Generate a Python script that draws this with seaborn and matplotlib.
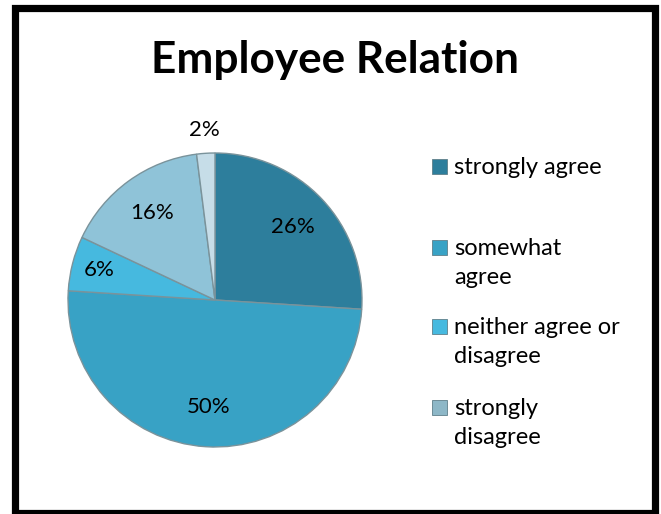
import matplotlib
matplotlib.use("Agg")
import matplotlib.pyplot as plt
from matplotlib.patches import Rectangle
import numpy as np
import seaborn as sns

# Survey responses (percent)
categories = ["strongly agree", "somewhat agree", "neither agree or disagree",
              "strongly disagree", "other"]
shares = [26, 50, 6, 16, 2]
legend_labels = ["strongly agree", "somewhat\nagree", "neither agree or\ndisagree",
                 "strongly\ndisagree"]
colors = ["#2D7E9C", "#38A2C5", "#46B9DF", "#8FC3D8", "#C6DDE8"]
legend_colors = ["#2D7E9C", "#38A2C5", "#46B9DF", "#8DB7C7"]

sns.set_theme(style="white")
plt.rcParams["font.family"] = ["Lato", "DejaVu Sans"]

W, H = 661, 514
fig = plt.figure(figsize=(W / 100, H / 100), dpi=100)
fig.patch.set_facecolor("white")

# Pie axes: centre (215, 300) px, radius 147 px
cx, cy, r = 215, 300, 147
ax = fig.add_axes([(cx - r) / W, (H - cy - r) / H, 2 * r / W, 2 * r / H])
wedges, texts, autotexts = ax.pie(
    shares, colors=colors, startangle=90, counterclock=False,
    autopct=lambda p: f"{p:.0f}%", pctdistance=0.73,
    wedgeprops=dict(edgecolor="#7A939B", linewidth=1.0),
    textprops=dict(fontsize=16, color="black"),
)
ax.set_xlim(-1, 1)
ax.set_ylim(-1, 1)
ax.set_aspect("equal")

# Nudge the labels of the two thin slices
for w, t, d in zip(wedges, autotexts, [0.73, 0.73, 0.81, 0.73, 1.16]):
    ang = np.deg2rad((w.theta1 + w.theta2) / 2)
    t.set_position((d * np.cos(ang), d * np.sin(ang)))

fig.text(335 / W, 1 - 73 / H, "Employee Relation", ha="center", va="baseline",
         fontsize=31.8, fontweight="bold", color="black")

# Legend: first-line baselines in px from the top
entry_baselines = [174, 255, 334, 415]
for lab, col, base in zip(legend_labels, legend_colors, entry_baselines):
    fig.patches.append(Rectangle((432 / W, 1 - base / H), 15 / W, 15 / H,
                                 transform=fig.transFigure, facecolor=col,
                                 edgecolor="#5F7F8A", linewidth=0.6))
    fig.text(454 / W, 1 - (base - 17) / H, lab, ha="left", va="top",
             fontsize=17, color="black", linespacing=1.45)

# Outer frame
fig.patches.append(Rectangle((14.5 / W, 1 - 513 / H), (654.5 - 14.5) / W, (513 - 7.5) / H,
                             transform=fig.transFigure, fill=False,
                             edgecolor="black", linewidth=5.2))

fig.savefig("out.png", dpi=100)
